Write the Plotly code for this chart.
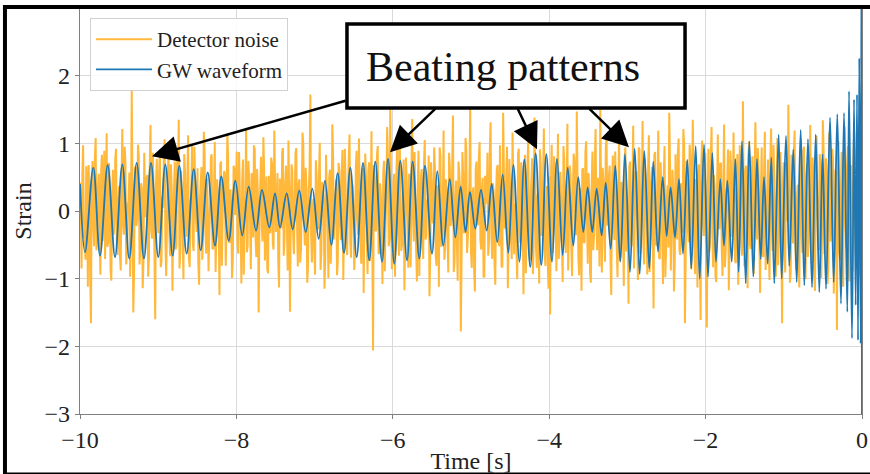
import numpy as np
import plotly.graph_objects as go

# ---------------- data ----------------
# GW waveform: successive extrema (time [s], strain)
wave_t = [-10.000, -9.936, -9.830, -9.744, -9.646, -9.552, -9.459, -9.370, -9.275, -9.182,
          -9.092, -8.999, -8.909, -8.815, -8.730, -8.636, -8.546, -8.457, -8.367, -8.274,
          -8.193, -8.098, -8.014, -7.925, -7.843, -7.749, -7.673, -7.579, -7.506, -7.442,
          -7.357, -7.280, -7.196, -7.114, -7.029, -6.948, -6.867, -6.786, -6.705, -6.624,
          -6.543, -6.462, -6.381, -6.301, -6.224, -6.138, -6.061, -5.981, -5.904, -5.818,
          -5.746, -5.661, -5.588, -5.499, -5.431, -5.354, -5.272, -5.201, -5.132, -5.070,
          -5.013, -4.945, -4.872, -4.799, -4.735, -4.664, -4.595, -4.523, -4.459, -4.382,
          -4.318, -4.242, -4.173, -4.101, -4.037, -3.964, -3.900, -3.827, -3.763, -3.692,
          -3.628, -3.564, -3.508, -3.449, -3.393, -3.329, -3.277, -3.214, -3.155, -3.091,
          -3.031, -2.967, -2.907, -2.843, -2.784, -2.720, -2.669, -2.609, -2.549, -2.498,
          -2.447, -2.391, -2.340, -2.289, -2.234, -2.183, -2.127, -2.076, -2.020, -1.969,
          -1.914, -1.867, -1.812, -1.765, -1.722, -1.666, -1.620, -1.577, -1.535, -1.487,
          -1.441, -1.390, -1.343, -1.295, -1.253, -1.206, -1.160, -1.122, -1.066, -1.027,
          -0.972, -0.930, -0.879, -0.835, -0.784, -0.738, -0.691, -0.639, -0.592, -0.546,
          -0.504, -0.460, -0.409, -0.362, -0.316, -0.269, -0.230, -0.188, -0.166, -0.128,
          -0.102, -0.081, -0.064, -0.051, -0.035, -0.017, -0.006, 0.000]
wave_v = [0.40, -0.61, 0.64, -0.66, 0.68, -0.68, 0.69, -0.70, 0.71, -0.70,
          0.71, -0.68, 0.69, -0.66, 0.67, -0.63, 0.62, -0.58, 0.57, -0.51,
          0.51, -0.44, 0.45, -0.36, 0.36, -0.29, 0.31, -0.24, 0.26, -0.24,
          0.26, -0.27, 0.30, -0.31, 0.33, -0.41, 0.45, -0.50, 0.56, -0.62,
          0.64, -0.68, 0.71, -0.73, 0.73, -0.75, 0.77, -0.78, 0.74, -0.73,
          0.73, -0.70, 0.67, -0.63, 0.59, -0.51, 0.47, -0.39, 0.36, -0.31,
          0.28, -0.26, 0.31, -0.29, 0.40, -0.46, 0.54, -0.62, 0.68, -0.75,
          0.76, -0.83, 0.85, -0.80, 0.84, -0.75, 0.77, -0.65, 0.64, -0.51,
          0.50, -0.31, 0.35, -0.31, 0.33, -0.36, 0.42, -0.56, 0.67, -0.75,
          0.84, -0.90, 0.92, -0.93, 0.89, -0.85, 0.73, -0.60, 0.50, -0.37,
          0.35, -0.39, 0.47, -0.63, 0.76, -0.85, 0.96, -1.00, 0.98, -0.97,
          0.86, -0.75, 0.47, -0.51, 0.45, -0.75, 0.77, -0.90, 1.03, -1.07,
          1.03, -0.97, 0.77, -0.71, 0.50, -0.78, 0.79, -1.07, 1.13, -1.00,
          1.11, -0.81, 0.91, -1.05, 1.20, -1.10, 1.06, -1.13, 1.13, -1.20,
          0.84, -1.15, 1.38, -1.05, 1.43, -1.37, 1.45, -1.49, 1.77, -1.88,
          1.65, -1.39, 1.72, -1.91, 2.26, -1.96, 4.00, -4.00]

# Detector noise, in units of 0.01 strain: main samples and the samples between them
noise_main = [
    42, -85, 97, -31, 66, -112, 18, -166, 74, -52, 108, -27, 55, -94, 83, 12, -71, 115, -46, 29, -103, 61, -18, 92, -65,
    37, -88, 121, -35, 72, -58, 16, -97, 179, -150, 64, -22, 98, -79, 41, -114, 86, -9, 53, -68, 127, -41, 24, -160, 77,
    -33, 91, -74, 5, 106, -96, 47, -29, 69, -118, 34, -57, 81, 135, -62, 19, -101, 58, -38, 112, -83, 26, -49, 95, -14,
    63, -109, 39, -72, 117, -25, 48, -89, 7, 84, -56, 102, -37, 21, -124, 73, -11, 59, -81, 114, -44, 32, -99, 67, -6,
    88, -63, 28, -107, 76, -19, 123, -51, 43, -86, 15, 97, -39, 62, -150, 35, -24, 109, -73, 51, -92, 8, 79, -47, 119,
    -31, 56, -113, 22, 87, -66, 41, -17, 104, -149, 69, -36, 13, 93, -82, 47, -58, 116, -21, 64, -106, 31, 172, -76, 18,
    -94, 52, -27, 101, -61, 36, -115, 83, -4, 49, -78, 128, -42, 17, -95, 71, -23, 58, -102, 92, -55, 27, 113, -69, 39,
    -87, 64, -12, 107, -48, 33, -121, 85, -36, 59, -74, 118, -206, 47, -28, 96, -63, 21, -108, 74, -15, 124, -52, 150, -86,
    43, -97, 68, -34, 111, -59, 25, -117, 79, -8, 55, -83, 136, -45, 14, -104, 89, -26, 62, -71, 105, -38, 19, -126, 72,
    -16, 94, -67, 38, -112, 81, -29, 119, -53, 26, -91, 66, -7, 141, -76, 45, -103, 58, -178, 87, -33, 108, -62, 12, 160,
    -84, 35, -119, 73, -21, 102, -57, 49, -98, 16, 86, -44, 131, -71, 28, -109, 63, -35, 97, -82, 145, -26, 54, -114, 77,
    -39, 116, -64, 9, -101, 92, -47, 31, -123, 83, -18, 106, -72, 44, -93, 138, -55, 23, -107, 69, -13, 122, -81, 37, -115,
    -153, 98, -28, 61, -89, 114, -41, 17, -105, 76, -62, 129, -24, 52, -96, 85, -11, 147, -69, 34, -118, 63, -46, 103, -78,
    27, -106, 88, -37, 121, -58, 14, 150, -91, 46, -75, 109, -19, 67, -124, 82, -43, 35, -98, 117, -66, 22, -111, 94, -32,
    -137, 73, -52, 126, -17, 58, -102, 91, -35, 133, -79, 41, -94, 112, -26, 65, -144, 87, -48, 119, -71, 29, -108, 96, -57,
    38, 145, -88, 61, -119, 84, -42, 107, -65, 23, 121, -166, 74, -31, 98, -86, 135, -53, 47, -113, 69, -161, 104, -37, 86,
    -172, 92, -49, 124, -83, 36, -105, 113, -27, 71, -96, 128, -61, 44, -117, 89, -38, 116, -74, 53, -109, 97, -45, 162, -82,
    67, -114, 103, -56, 81, -93, 131, -42, 58, -121, 94, -68, 117, -33, 76, -102, 122, -59, 49, -97, 108, -44, 87, -166, 72,
    -91, 55, 157, -106, 83, -48, 119, -87, 39, -113, 106, -62, 95, -101, 71, -36, 127, -79, 52, -118, 111, -57, 84, -99, 134,
    -64, 78, -108, 116, -45, 92, -122, 61, -176, 103, -73, 87, -112, 125, -54, 96, -104, 68, -89, 115, -61, 83, -97, 74, -42,
]
noise_between = [
    12, 55, -40, -72, 31, 68, -93, 47, -15, 80, -58, 36, -27, 61, -44, 89, -6, -53, 71, -88, 24, -35, 77, -49, 19,
    -66, 43, -21, 95, -79, 8, 57, -38, 26, -91, 64, -13, 82, -56, 33, -74, 15, 49, -97, 70, -28, 86, -62, 39, -5,
    58, -83, 21, 76, -46, -18, 92, -67, 35, -11, 73, -52, 29, -85, 60, -37, 84, -24, 51, -70, 13, 96, -59, 42, -31,
    -77, 17, 65, -41, 88, -63, 9, -34, 78, -55, 23, -90, 47, -16, 69, -81, 38, 54, -25, 83, -47, 11, -72, 63, 32,
    -50, 87, -29, 45, -94, 20, -61, 74, -8, 56, -39, 91, -68, 27, -14, 80, -45, 62, 18, -86, 52, -33, 71, -57, 36,
    14, -73, 48, -26, 93, -42, 67, -88, 30, -9, 59, -64, 85, -19, 40, -76, 22, 97, -51, 34, -82, 66, -37, 7, -60,
    75, -20, 53, -87, 43, 16, -69, 28, -99, 61, -32, 81, -12, 46, -74, 58, -43, 90, -23, 37, -65, 79, -48, 25, 6,
    -56, 89, -35, 19, -78, 64, -17, 50, -93, 72, 10, -45, 68, -30, 83, -62, 41, -14, 57, -89, 26, 77, -41, 34, -70,
    55, -24, 98, -66, 15, -50, 76, -37, 44, -84, 21, 63, -11, 87, -58, 32, -96, 49, -27, 70, -42, 13, 82, -64, 39,
    -18, 60, -81, 29, 94, -53, 8, -72, 47, -35, 86, -22, 65, -90, 18, -47, 73, 31, -68, 54, -15, 92, -38, 44, -61,
    27, -89, 62, -16, 79, -43, 35, -97, 52, 11, -66, 88, -29, 41, -76, 23, 68, -52, 14, -83, 59, -20, 95, -44, 30,
    -71, 46, 9, -57, 84, -33, 72, -11, 38, -92, 63, -25, 17, 78, -49, 55, -84, 26, 91, -37, 48, -65, 12, -78, 51,
    40, -62, 81, -19, 33, -71, 58, -44, 96, -28, 15, -88, 67, -53, 22, 74, -36, 45, -95, 18, 61, -47, 87, -13, 56,
    -91, 35, -58, 73, -7, 49, -82, 26, 64, -39, 93, -21, 52, -69, 37, -14, 88, -56, 20, -74, 43, -31, 79, -60, 11,
    66, -42, 28, -85, 57, -18, 94, -63, 31, -48, 77, -9, 59, -90, 44, -27, 83, -51, 16, -69, 72, -36, 50, -98, 24,
    -54, 69, -23, 38, -79, 14, 86, -57, 41, -32, 97, -70, 23, -46, 81, -15, 62, -93, 35, 56, -28, 74, -12, 48, -87,
    19, -61, 79, -34, 53, -96, 30, -8, 70, -55, 42, -83, 25, 91, -40, 60, -19, 36, -77, 84, -31, 47, -66, 13, 57,
    -38, 82, -50, 24, -72, 67, -12, 93, -46, 29, -64, 51, -87, 17, -53, 76, -30, 98, -43, 21, -80, 65, -26, 39, -59,
    72, -15, 46, -91, 33, 85, -54, 20, -75, 61, -37, 89, -22, 54, -68, 12, -44, 79, -97, 37, 16, -58, 71, -35, 90,
    -27, 58, -84, 43, -13, 76, -49, 32, 95, -61, 24, -40, 83, -17, 68, -92, 39, -53, 74, 10, -79, 55, -30, 64,
]

x_ticks = [-10, -8, -6, -4, -2, 0]
y_ticks = [-3, -2, -1, 0, 1, 2, 3]

# annotation arrow heads (data coords) pointing at beat maxima, tail offsets in px
arrow_x = [-9.079, -6.036, -4.156, -2.980]
arrow_y = [0.809, 0.868, 0.912, 0.941]
arrow_ax = [195, 47, -20, -41]
arrow_ay = [-56, -45, -42, -40]

# build evenly sampled noise series (main, between, main, between, ..., main)
noise = []
for i, a in enumerate(noise_main):
    noise.append(a / 100)
    if i < len(noise_between):
        noise.append(noise_between[i] / 100)
noise_t = np.linspace(-10, 0, len(noise))

FONT = "Liberation Serif"

fig = go.Figure()
fig.add_trace(go.Scatter(x=noise_t, y=noise, mode="lines", name="Detector noise",
                         line=dict(color="#FFB83A", width=2.0, simplify=False)))
fig.add_trace(go.Scatter(x=wave_t, y=wave_v, mode="lines", name="GW waveform",
                         line=dict(color="#1f77b4", width=1.8, shape="spline", smoothing=1.0,
                                   simplify=False)))

axis_common = dict(showline=True, linecolor="#808080", linewidth=1.3, mirror=True,
                   ticks="outside", ticklen=4, tickcolor="#808080", automargin=False,
                   showgrid=True, gridcolor="#dadada", gridwidth=1, zeroline=False,
                   tickfont=dict(family=FONT, size=24, color="#222"))

fig.update_xaxes(range=[-10, 0], tickvals=x_ticks,
                 title=dict(text="Time [s]", font=dict(family=FONT, size=24, color="#222"), standoff=4),
                 **axis_common)
fig.update_yaxes(range=[-3, 3], tickvals=y_ticks,
                 title=dict(text="Strain", font=dict(family=FONT, size=24, color="#222"), standoff=6),
                 **axis_common)

shapes = [
    # white strip above frame (cropped area)
    dict(type="rect", xref="paper", yref="paper", x0=-0.1023, x1=1.0103, y0=1.0074, y1=1.0197,
         fillcolor="white", line=dict(width=0), layer="above"),
    # black frame: top, left, bottom
    dict(type="rect", xref="paper", yref="paper", x0=-0.0985, x1=1.0103, y0=0.9975, y1=1.0074,
         fillcolor="black", line=dict(width=0), layer="above"),
    dict(type="rect", xref="paper", yref="paper", x0=-0.0985, x1=-0.0934, y0=-0.1478, y1=1.0074,
         fillcolor="black", line=dict(width=0), layer="above"),
    dict(type="rect", xref="paper", yref="paper", x0=-0.0985, x1=1.0103, y0=-0.1478, y1=-0.1441,
         fillcolor="black", line=dict(width=0), layer="above"),
    # annotation box
    dict(type="rect", xref="paper", yref="paper", x0=0.3414, x1=0.7737, y0=0.7537, y1=0.9606,
         fillcolor="white", line=dict(color="black", width=3.5), layer="above"),
]

annotations = [
    dict(text="Beating patterns", xref="paper", yref="paper", x=0.541, y=0.855,
         showarrow=False, font=dict(family=FONT, size=42, color="#111"),
         xanchor="center", yanchor="middle"),
]
for hx, hy, ax, ay in zip(arrow_x, arrow_y, arrow_ax, arrow_ay):
    annotations.append(dict(x=hx, y=hy, xref="x", yref="y", text="", showarrow=True,
                            ax=ax, ay=ay, arrowhead=2, arrowsize=2.1, arrowwidth=2.5,
                            arrowcolor="black", standoff=0, startstandoff=0))

fig.update_layout(
    width=870, height=474,
    margin=dict(l=80, r=8, t=8, b=60),
    paper_bgcolor="white", plot_bgcolor="white",
    showlegend=True,
    legend=dict(x=0.0128, y=0.9754, xanchor="left", yanchor="top", itemwidth=56,
                bgcolor="rgba(255,255,255,0.85)", bordercolor="#d0d0d0", borderwidth=1,
                font=dict(family=FONT, size=21, color="#222"), tracegroupgap=0),
    shapes=shapes,
    annotations=annotations,
)

fig.write_html("out.html")
